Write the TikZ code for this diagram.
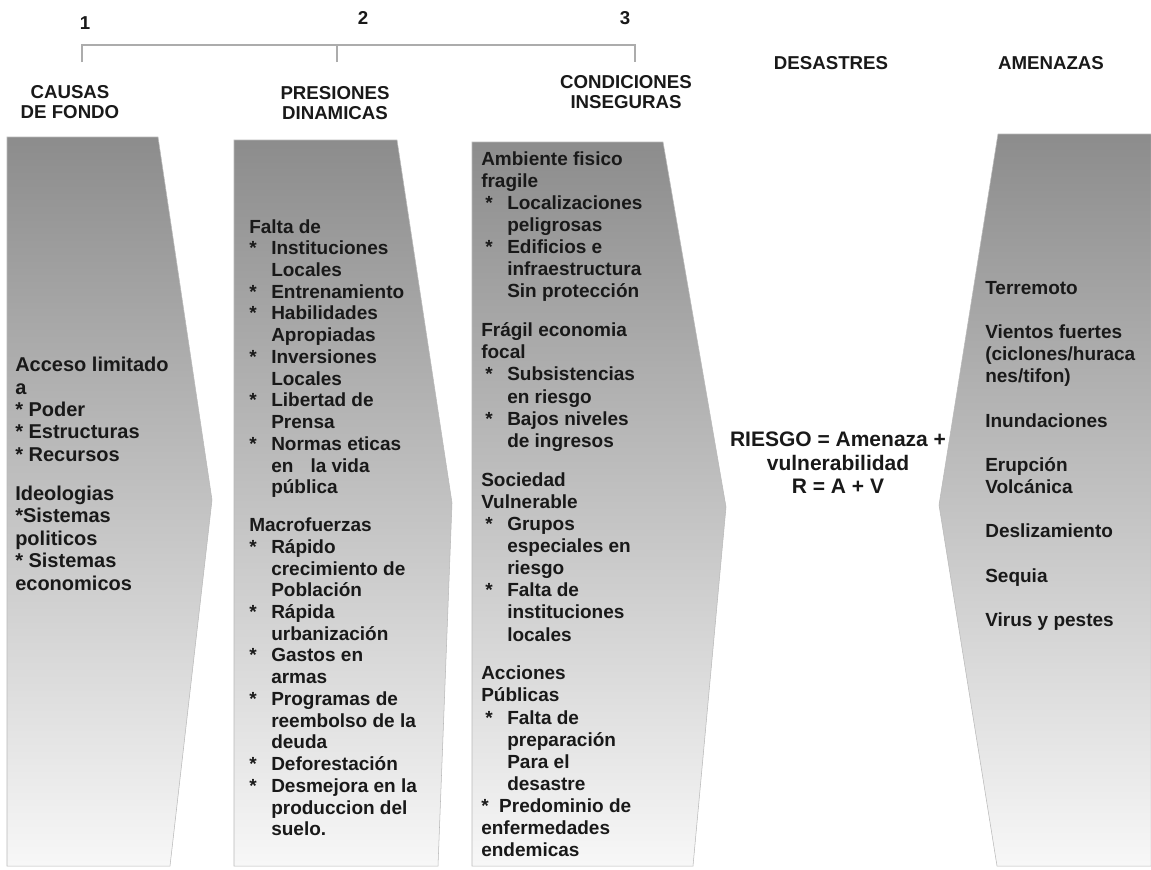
\documentclass[tikz,border=0pt]{standalone}
\usepackage{fontspec}
\setmainfont{Liberation Sans}
\usepackage{tikz}
\usetikzlibrary{calc}

\newlength{\pxu}
\setlength{\pxu}{0.75pt}
\newcommand{\itm}{\makebox[22\pxu][l]{*}}
\newcommand{\ind}{\hspace*{22\pxu}}
\newcommand{\itmb}{\hspace*{4\pxu}\makebox[22\pxu][l]{*}}
\newcommand{\indb}{\hspace*{26\pxu}}

\definecolor{shtop}{gray}{0.55}
\definecolor{shbot}{gray}{0.97}
\definecolor{ink}{gray}{0.1}

\begin{document}
\begin{tikzpicture}[x=0.75pt, y=-0.75pt,
    colbox/.style={top color=shtop, bottom color=shbot, draw=gray!55, line width=0.4pt},
    head/.style={font=\bfseries\fontsize{14pt}{15pt}\selectfont, text=ink, align=center, inner sep=0pt},
    txt/.style={font=\bfseries\fontsize{14.25pt}{16.6pt}\selectfont, text=ink, align=left, anchor=north west, inner sep=0pt},
    brk/.style={draw=gray!65, line width=0.8pt}]

    \useasboundingbox[fill=white] (0,0) rectangle (1151,869);

    \shadedraw[colbox] (7,137) -- (158,137) -- (212,500) -- (170,866) -- (7,866) -- cycle;
    \shadedraw[colbox] (234,140) -- (397,140) -- (452,503) -- (438,866) -- (234,866) -- cycle;
    \shadedraw[colbox] (472,142) -- (663,142) -- (726,507) -- (693,866) -- (472,866) -- cycle;
    \shadedraw[colbox] (998,134) -- (1151,134) -- (1151,866) -- (997,866) -- (939,505) -- cycle;

    \node[head] (n1) at (85,23) {1};
    \node[head] (n2) at (363,18) {2};
    \node[head] (n3) at (625,18) {3};

    \coordinate (t1) at (82,62);
    \coordinate (t2) at (337,62);
    \coordinate (t3) at (635,62);
    \coordinate (b1) at (82,45);
    \coordinate (b3) at (635,45);
    \draw[brk] (t1) -- (b1) -- (b3) -- (t3);
    \draw[brk] (t2) -- (t2 |- b1);

    \node[head] (causas) at (70,102) {CAUSAS\\DE FONDO};
    \node[head] (presiones) at (335,103) {PRESIONES\\DINAMICAS};
    \node[head] (condiciones) at (626,92) {CONDICIONES\\INSEGURAS};
    \node[head] (desastres) at (831,63) {DESASTRES};
    \node[head] (amenazas) at (1051,63) {AMENAZAS};

    \node[txt, font=\bfseries\fontsize{15pt}{16.8pt}\selectfont] (fondo) at (15,357) {Acceso limitado\\
        a\\
        * Poder\\
        * Estructuras\\
        * Recursos\\[12.5pt]
        Ideologias\\
        *Sistemas\\
        politicos\\
        * Sistemas\\
        economicos};

    \node[txt, font=\bfseries\fontsize{14.25pt}{16.3pt}\selectfont] (dinamicas) at (249,219) {Falta de\\
        \itm Instituciones\\
        \ind Locales\\
        \itm Entrenamiento\\
        \itm Habilidades\\
        \ind Apropiadas\\
        \itm Inversiones\\
        \ind Locales\\
        \itm Libertad de\\
        \ind Prensa\\
        \itm Normas eticas\\
        \ind en\hspace{0.9em}la vida\\
        \ind pública\\[12pt]
        Macrofuerzas\\
        \itm Rápido\\
        \ind crecimiento de\\
        \ind Población\\
        \itm Rápida\\
        \ind urbanización\\
        \itm Gastos en\\
        \ind armas\\
        \itm Programas de\\
        \ind reembolso de la\\
        \ind deuda\\
        \itm Deforestación\\
        \itm Desmejora en la\\
        \ind produccion del\\
        \ind suelo.};

    \node[txt] (inseguras) at (481,151) {Ambiente fisico\\
        fragile\\
        \itmb Localizaciones\\
        \indb peligrosas\\
        \itmb Edificios e\\
        \indb infraestructura\\
        \indb Sin protección\\[12.5pt]
        Frágil economia\\
        focal\\
        \itmb Subsistencias\\
        \indb en riesgo\\
        \itmb Bajos niveles\\
        \indb de ingresos\\[12.5pt]
        Sociedad\\
        Vulnerable\\
        \itmb Grupos\\
        \indb especiales en\\
        \indb riesgo\\
        \itmb Falta de\\
        \indb instituciones\\
        \indb locales\\[12.5pt]
        Acciones\\
        Públicas\\
        \itmb Falta de\\
        \indb preparación\\
        \indb Para el\\
        \indb desastre\\
        *\ \ Predominio de\\
        enfermedades\\
        endemicas};

    \node[font=\bfseries\fontsize{15.75pt}{17.6pt}\selectfont, text=ink, align=center, inner sep=0pt] (riesgo) at (838,463) {RIESGO = Amenaza +\\vulnerabilidad\\R = A + V};

    \node[txt] (tipos) at (985,281) {Terremoto\\[16.6pt]
        Vientos fuertes\\
        (ciclones/huraca\\
        nes/tifon)\\[16.6pt]
        Inundaciones\\[16.6pt]
        Erupción\\
        Volcánica\\[16.6pt]
        Deslizamiento\\[16.6pt]
        Sequia\\[16.6pt]
        Virus y pestes};
\end{tikzpicture}
\end{document}
